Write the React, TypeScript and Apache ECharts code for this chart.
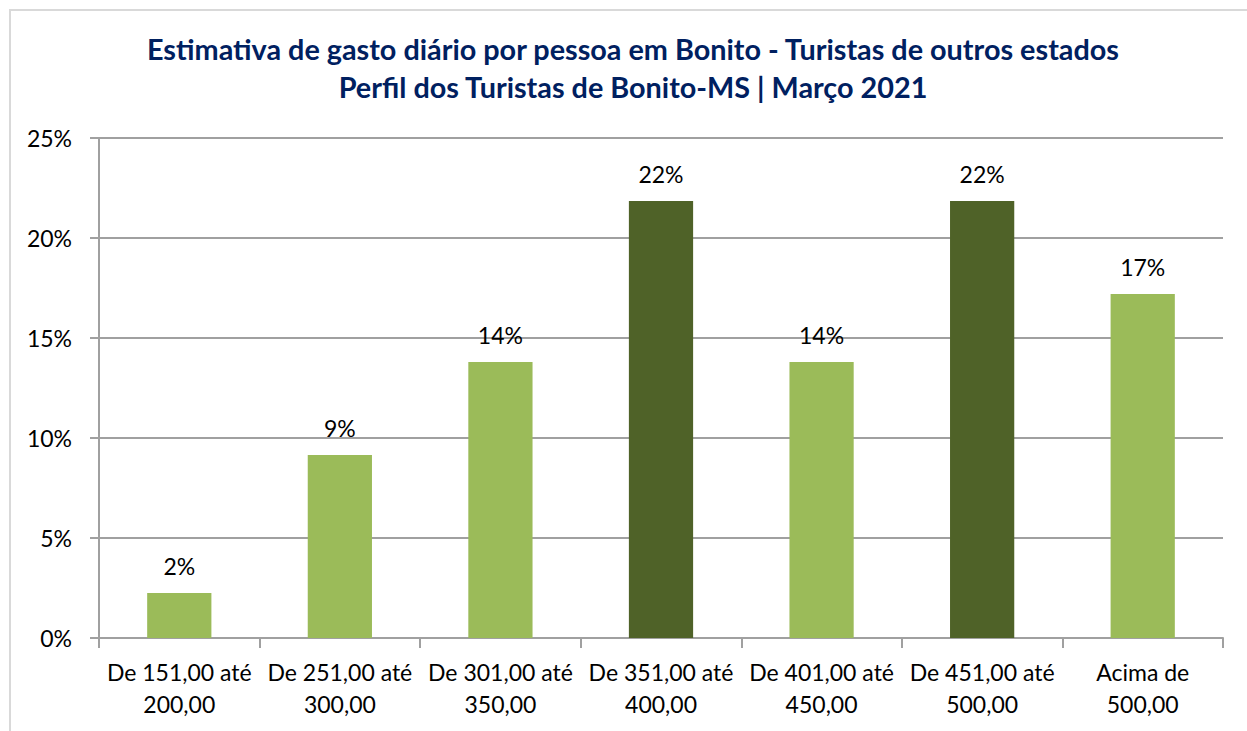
import React, { useEffect, useRef } from "react";
import * as echarts from "echarts";

const categories = [
  "De 151,00 até\n200,00",
  "De 251,00 até\n300,00",
  "De 301,00 até\n350,00",
  "De 351,00 até\n400,00",
  "De 401,00 até\n450,00",
  "De 451,00 até\n500,00",
  "Acima de\n500,00",
];
const values = [2.25, 9.15, 13.8, 21.85, 13.8, 21.85, 17.2];
const yTicks = [0, 5, 10, 15, 20, 25];
const titleLines = [
  "Estimativa de gasto diário por pessoa em Bonito - Turistas de outros estados",
  "Perfil dos Turistas de Bonito-MS | Março 2021",
];

const FONT = "Lato, 'Open Sans', sans-serif";

export default function App() {
  const ref = useRef<HTMLDivElement>(null);
  useEffect(() => {
    document.body.style.margin = "0";
    if (!ref.current) return;
    const chart = echarts.init(ref.current, undefined, { renderer: "svg" });
    const maxV = Math.max(...values);
    chart.setOption({
      animation: false,
      backgroundColor: "#ffffff",
      title: {
        text: titleLines.join("\n"),
        left: 628,
        textAlign: "center",
        top: 25,
        textStyle: {
          fontFamily: FONT,
          fontWeight: "bold",
          fontSize: 28.8,
          color: "#002060",
          lineHeight: 38,
        },
      },
      graphic: [
        {
          type: "rect",
          shape: { x: 10, y: 10, width: 1400, height: 900 },
          style: { fill: "none", stroke: "#d9d9d9", lineWidth: 2 },
          silent: true,
        },
      ],
      grid: { left: 99, right: 24, top: 138, bottom: 93, containLabel: false },
      xAxis: {
        type: "category",
        data: categories,
        axisLine: { lineStyle: { color: "#a0a0a0", width: 2 } },
        axisTick: { show: true, length: 10, lineStyle: { color: "#a0a0a0", width: 2 } },
        axisLabel: {
          fontFamily: FONT,
          fontSize: 23,
          color: "#000",
          lineHeight: 32,
          margin: 18,
          interval: 0,
        },
      },
      yAxis: {
        type: "value",
        min: 0,
        max: 25,
        interval: 5,
        axisLine: { show: true, lineStyle: { color: "#a0a0a0", width: 2 } },
        axisTick: { show: true, length: 9, lineStyle: { color: "#a0a0a0", width: 2 } },
        splitLine: { lineStyle: { color: "#a0a0a0", width: 2 } },
        axisLabel: {
          fontFamily: FONT,
          fontSize: 23,
          color: "#000",
          margin: 27,
          formatter: (v: number) => (yTicks.includes(v) ? v + "%" : ""),
        },
      },
      series: [
        {
          type: "bar",
          data: values,
          barWidth: "40%",
          itemStyle: {
            color: (p: any) => (p.value === maxV ? "#4F6228" : "#9BBB59"),
          },
          label: {
            show: true,
            position: "top",
            distance: 16,
            fontFamily: FONT,
            fontSize: 23,
            color: "#000",
            formatter: (p: any) => Math.round(p.value) + "%",
          },
        },
      ],
    });
    return () => chart.dispose();
  }, []);
  return <div ref={ref} style={{ width: 1247, height: 731 }} />;
}
